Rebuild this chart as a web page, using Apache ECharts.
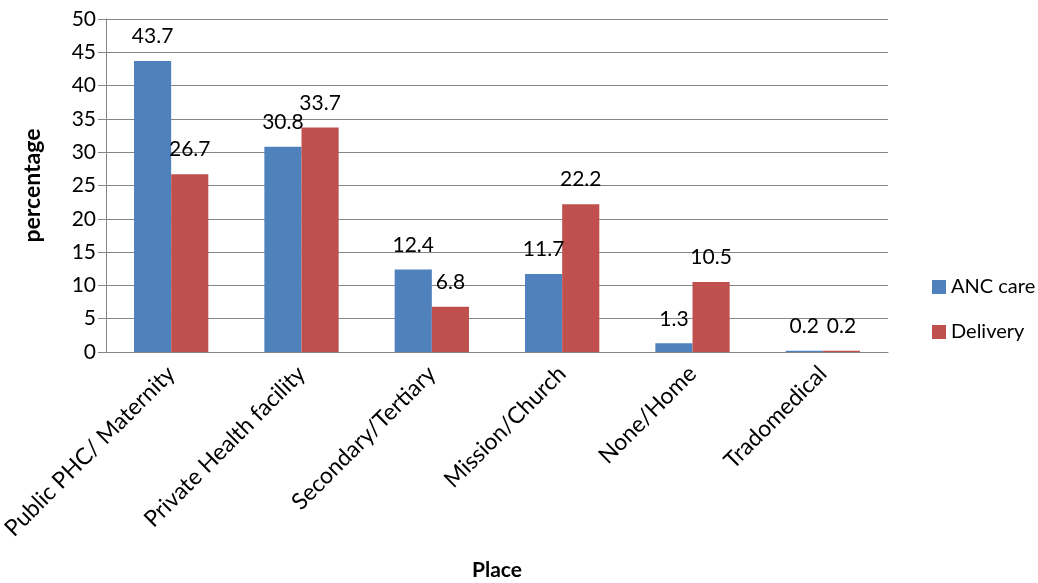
<!DOCTYPE html>
<html><head><meta charset="utf-8">
<script src="https://cdn.jsdelivr.net/npm/echarts@6/dist/echarts.min.js"></script>
<style>html,body{margin:0;padding:0;background:#fff}#c{width:1038px;height:583px}</style>
</head><body><div id="c"></div>
<script>
const categories = ['Public PHC/ Maternity','Private Health facility','Secondary/Tertiary','Mission/Church','None/Home','Tradomedical'];
const ancCare = [43.7, 30.8, 12.4, 11.7, 1.3, 0.2];
const delivery = [26.7, 33.7, 6.8, 22.2, 10.5, 0.2];
const yTicks = {min: 0, max: 50, interval: 5};
const FONT = 'Lato';
const FS = 21;
const chart = echarts.init(document.getElementById('c'));
const lbl = {show: true, position: 'top', distance: 14, color: '#000', fontSize: FS, fontFamily: FONT};
chart.setOption({
  animation: false,
  textStyle: {fontFamily: FONT},
  grid: {left: 106, right: 150, top: 19, bottom: 231, outerBoundsMode: 'none', containLabel: false},
  legend: {
    orient: 'vertical', left: 927, top: 272, itemWidth: 14, itemHeight: 14, itemGap: 25, itemGap: 25,
    icon: 'rect', textStyle: {fontSize: 20, color: '#000', fontFamily: FONT},
    data: ['ANC care', 'Delivery']
  },
  xAxis: {
    type: 'category', data: categories,
    name: 'Place', nameLocation: 'middle', nameGap: 208,
    nameTextStyle: {fontSize: FS, fontWeight: 'bold', color: '#000', fontFamily: FONT},
    axisLine: {lineStyle: {color: '#868686'}},
    axisTick: {show: false},
    axisLabel: {rotate: 45, fontSize: 23, color: '#000', margin: 18, interval: 0, fontFamily: FONT}
  },
  yAxis: {
    type: 'value', min: yTicks.min, max: yTicks.max, interval: yTicks.interval,
    name: 'percentage', nameLocation: 'middle', nameGap: 62,
    nameTextStyle: {fontSize: 23, fontWeight: 'bold', color: '#000', fontFamily: FONT},
    axisLine: {show: true, lineStyle: {color: '#868686'}},
    axisTick: {show: true, length: 8, lineStyle: {color: '#868686'}},
    axisLabel: {fontSize: FS, color: '#000', margin: 10, fontFamily: FONT},
    splitLine: {lineStyle: {color: '#868686'}}
  },
  series: [
    {name: 'ANC care', type: 'bar', data: ancCare, barGap: '0%', barCategoryGap: '43%',
     itemStyle: {color: '#4F81BD'}, label: lbl},
    {name: 'Delivery', type: 'bar', data: delivery, barGap: '0%', barCategoryGap: '43%',
     itemStyle: {color: '#C0504D'}, label: lbl}
  ]
});
</script></body></html>
